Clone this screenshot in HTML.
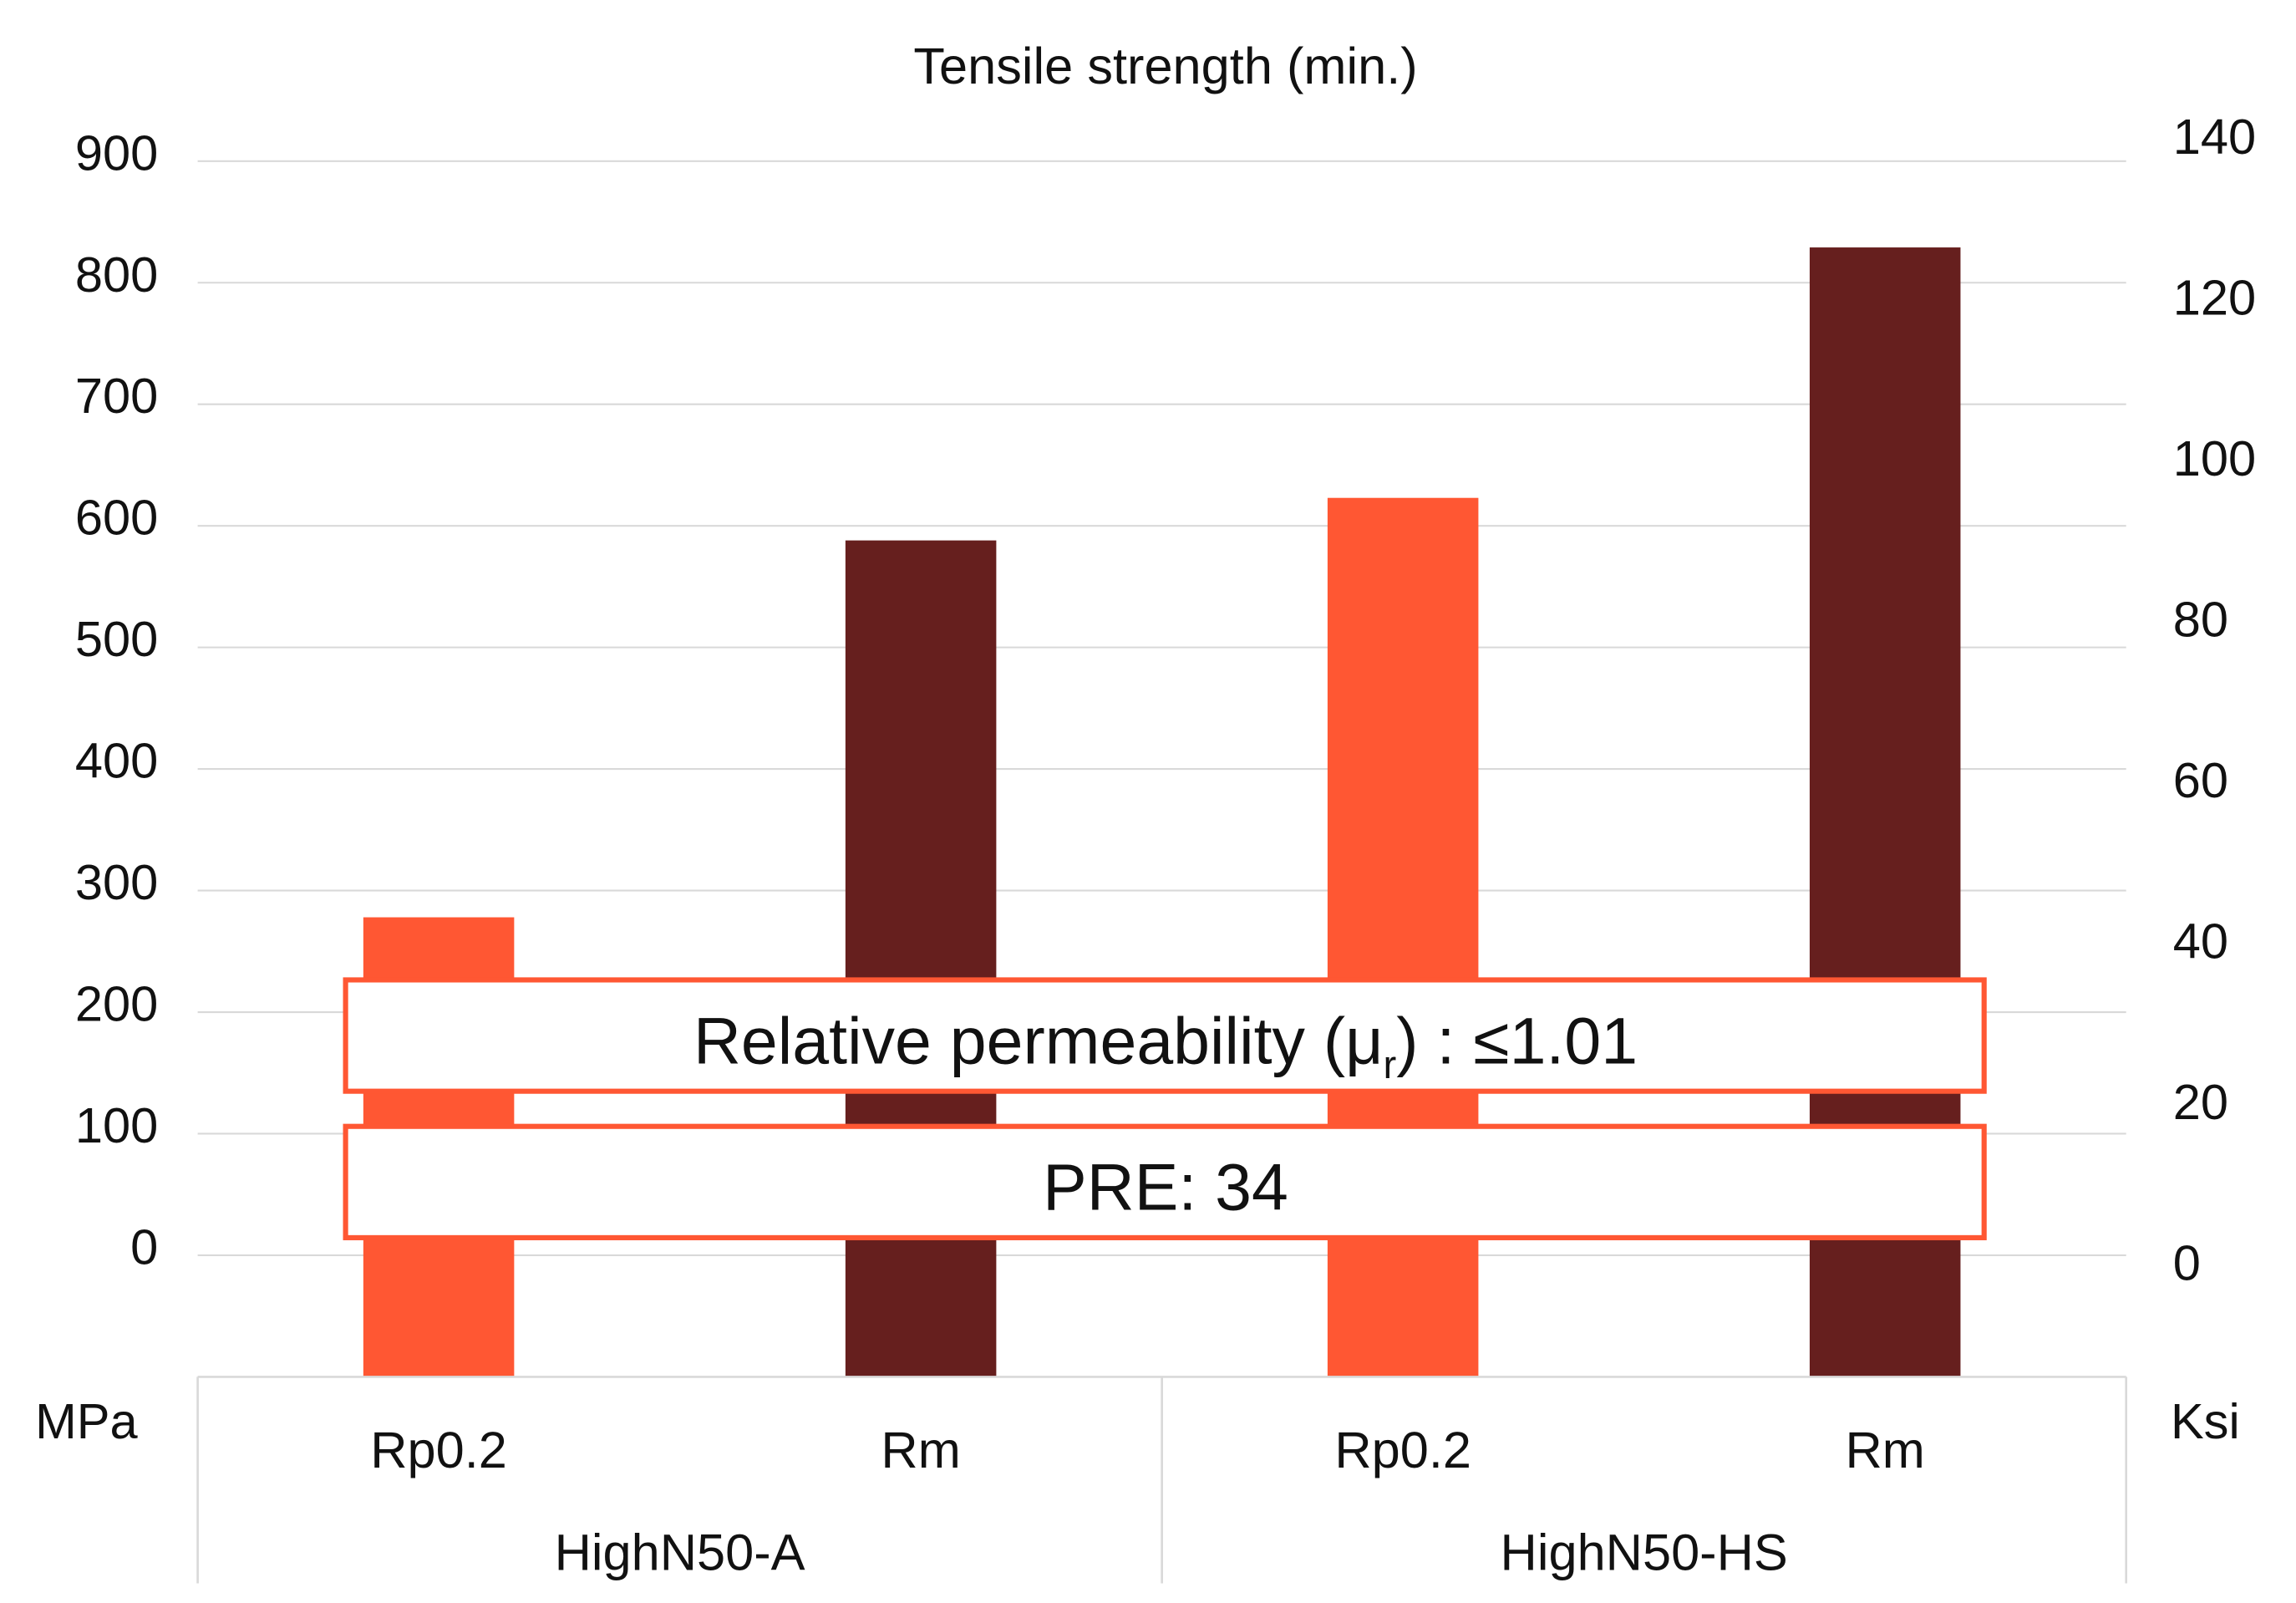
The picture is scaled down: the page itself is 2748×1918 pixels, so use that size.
<!DOCTYPE html>
<html><head><meta charset="utf-8"><style>
html,body{margin:0;padding:0;background:#fff;}
svg{display:block;font-family:"Liberation Sans",sans-serif;}
</style></head><body>
<svg id="chart" width="2748" height="1918" viewBox="0 0 1568 1094.4" preserveAspectRatio="none" xmlns="http://www.w3.org/2000/svg">
<text x="796" y="57" font-size="35" text-anchor="middle" fill="#111">Tensile strength (min.)</text>
<g id="grid"></g>
<g id="bars"></g>
<g id="axes"></g>
<rect x="236" y="669" width="1119" height="76" fill="#fff" stroke="#ff5733" stroke-width="3.5"/>
<text x="796" y="726" font-size="45" text-anchor="middle" fill="#111">Relative permeability (μ<tspan font-size="27" dy="10">r</tspan><tspan dy="-10">) : ≤1.01</tspan></text>
<rect x="236" y="769" width="1119" height="76" fill="#fff" stroke="#ff5733" stroke-width="3.5"/>
<text x="796" y="826" font-size="45" text-anchor="middle" fill="#111">PRE: 34</text>
<text x="59" y="982" font-size="34" text-anchor="middle" fill="#111">MPa</text>
<text x="1506" y="982" font-size="34" text-anchor="middle" fill="#111">Ksi</text>
</svg>
<script>
const categories = ["Rp0.2","Rm","Rp0.2","Rm"];
const groups = ["HighN50-A","HighN50-HS"];
const values = [278, 588, 623, 829];
const leftTicks = [0,100,200,300,400,500,600,700,800,900];
const rightTicks = [0,20,40,60,80,100,120,140];
const colors = ["#ff5733","#661f1e","#ff5733","#661f1e"];

const NS="http://www.w3.org/2000/svg";
const L=135,R=1452,Y0=857,PER=0.83;
const yL=v=>Y0-v*PER;
const yR=v=>862-v*(769/140);
const slot=(R-L)/categories.length;
const xc=i=>L+slot*(i+0.5);
function mk(tag,attrs,parent){const e=document.createElementNS(NS,tag);for(const k in attrs)e.setAttribute(k,attrs[k]);parent.appendChild(e);return e;}
const grid=document.getElementById('grid'),bars=document.getElementById('bars'),axes=document.getElementById('axes');
leftTicks.forEach(t=>{
  const l=mk('line',{x1:L,x2:R,y1:yL(t),y2:yL(t),stroke:'#d9d9d9','stroke-width':1.2},grid);
  
  
  const tx=mk('text',{x:108,y:yL(t)+6,'font-size':34,'text-anchor':'end',fill:'#111'},axes);
  tx.textContent=t;
  
  
});
rightTicks.forEach(t=>{
  const tx=mk('text',{x:1484,y:yR(t)+12,'font-size':34,fill:'#111'},axes);
  tx.textContent=t;
  
  
});
const base=yL(-100);
values.forEach((v,i)=>{
  const w=103;
  const r=mk('rect',{x:xc(i)-w/2,y:yL(v),width:w,height:base-yL(v),fill:colors[i]},bars);
  
  
  const tx=mk('text',{x:xc(i),y:1002,'font-size':35,'text-anchor':'middle',fill:'#111'},axes);
  tx.textContent=categories[i];
  
  
});
const ax=mk('line',{x1:L,x2:R,y1:base,y2:base,stroke:'#d9d9d9','stroke-width':1.5},axes);


const gw=(R-L)/groups.length;
for(let g=0;g<=groups.length;g++){
  const s=mk('line',{x1:L+g*gw,x2:L+g*gw,y1:base,y2:1081,stroke:'#d9d9d9','stroke-width':1.5},axes);
  
  
}
groups.forEach((g,i)=>{
  const tx=mk('text',{x:L+gw*(i+0.5),y:1072,'font-size':35,'text-anchor':'middle',fill:'#111'},axes);
  tx.textContent=g;
  
  
});
</script>
</body></html>
